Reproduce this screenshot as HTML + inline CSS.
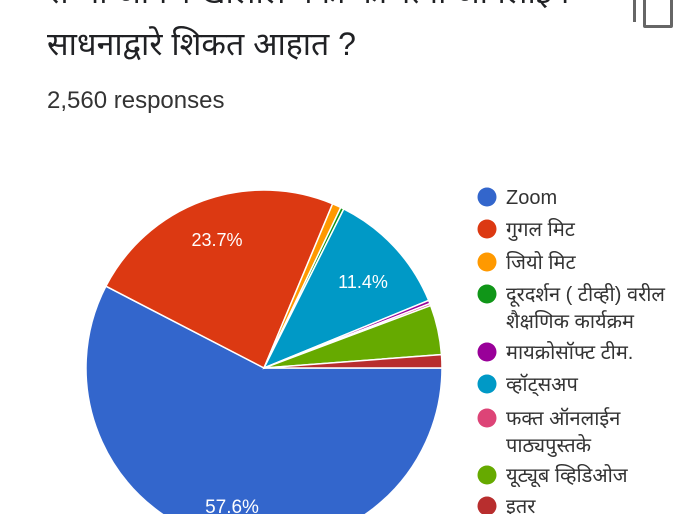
<!DOCTYPE html>
<html><head><meta charset="utf-8"><style>
html,body{margin:0;width:685px;height:514px;overflow:hidden}
body{background:#fff;font-family:"Liberation Sans","Noto Sans Devanagari",sans-serif;color:#212121;position:relative}
.t{position:absolute;white-space:nowrap}
</style></head><body>
<div class="t" style="left:47px;top:-26px;font-size:32px;color:#202124">सध्या आपण खालील पैकी कोणत्या ऑनलाईन</div>
<div class="t" style="left:47px;top:26px;font-size:32px;color:#202124">साधनाद्वारे शिकत आहात ?</div>
<div class="t" style="left:47px;top:87px;font-size:24px;color:#333">2,560 responses</div>
<div style="position:absolute;left:643px;top:-6px;width:24px;height:28px;border:3px solid #666;border-radius:2px"></div>
<div style="position:absolute;left:633px;top:-6px;width:3px;height:28px;background:#666"></div>
<svg id="s" width="685" height="514" style="position:absolute;left:0;top:0"></svg>
<script>
var d=[[57.6,'#3366cc'],[23.7,'#dc3912'],[0.8,'#ff9900'],[0.3,'#109618'],[11.4,'#0099c6'],[0.3,'#990099'],[0.2,'#dd4477'],[4.5,'#66aa00'],[1.2,'#b82e2e']];
var cx=264,cy=368,r=178,a=90,h='';
function p(g){var t=g*Math.PI/180;return [cx+r*Math.sin(t),cy-r*Math.cos(t)];}
d.forEach(function(s){var e=a+s[0]*3.6,p1=p(a),p2=p(e);h+='<path d="M'+cx+','+cy+'L'+p1[0]+','+p1[1]+'A'+r+','+r+' 0 '+(e-a>180?1:0)+' 1 '+p2[0]+','+p2[1]+'Z" fill="'+s[1]+'" stroke="#fff" stroke-width="1.5"/>';a=e;});
h+='<text x="217" y="246" font-size="18" fill="#fff" text-anchor="middle" font-family="Liberation Sans">23.7%</text>';
h+='<text x="363" y="288" font-size="18" fill="#fff" text-anchor="middle" font-family="Liberation Sans">11.4%</text>';
h+='<text x="232" y="513" font-size="19" fill="#fff" text-anchor="middle" font-family="Liberation Sans">57.6%</text>';
var L=[[197,'Zoom','#3366cc'],[229,'गुगल मिट','#dc3912'],[262,'जियो मिट','#ff9900'],[294,'दूरदर्शन ( टीव्ही) वरील','#109618','शैक्षणिक कार्यक्रम'],[352,'मायक्रोसॉफ्ट टीम.','#990099'],[384,'व्हॉट्सअप','#0099c6'],[418,'फक्त ऑनलाईन','#dd4477','पाठ्यपुस्तके'],[475,'यूट्यूब व्हिडिओज','#66aa00'],[506,'इतर','#b82e2e']];
L.forEach(function(l){h+='<circle cx="487" cy="'+l[0]+'" r="9.5" fill="'+l[2]+'"/>';h+='<text x="506" y="'+(l[0]+7)+'" font-size="20" fill="#333" font-family="Liberation Sans,Noto Sans Devanagari,sans-serif">'+l[1]+'</text>';if(l[3])h+='<text x="506" y="'+(l[0]+34)+'" font-size="20" fill="#333" font-family="Liberation Sans,Noto Sans Devanagari,sans-serif">'+l[3]+'</text>';});
document.getElementById('s').innerHTML=h;
</script>
</body></html>
